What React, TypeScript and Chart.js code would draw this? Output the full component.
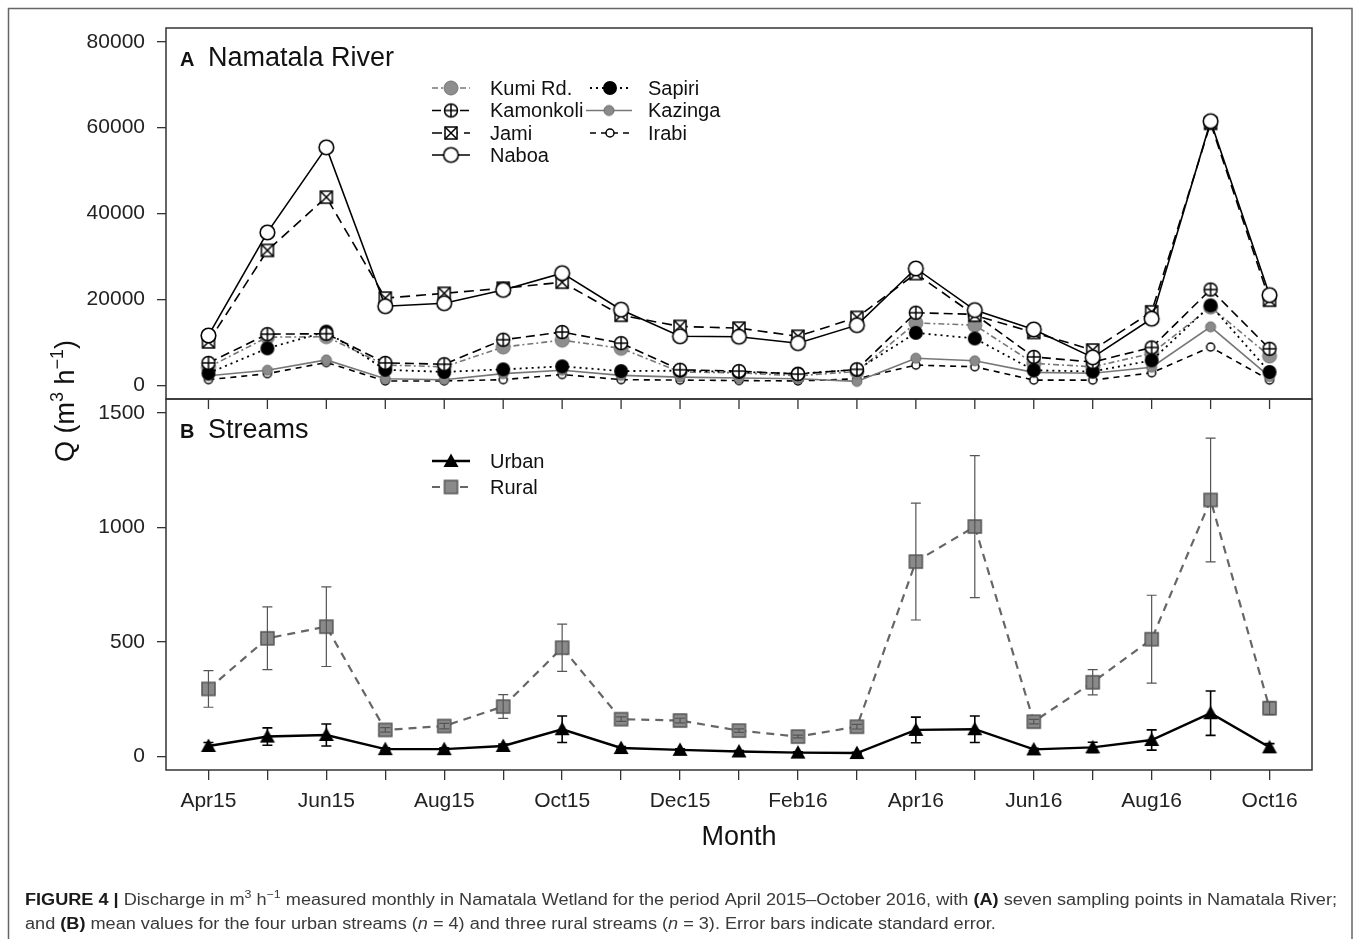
import React, { useEffect, useRef } from 'react';
import { Chart, registerables } from 'chart.js';

Chart.register(...registerables);

// ---------- data ----------
const MONTHS = ['Apr15', 'May15', 'Jun15', 'Jul15', 'Aug15', 'Sep15', 'Oct15', 'Nov15', 'Dec15', 'Jan16', 'Feb16', 'Mar16', 'Apr16', 'May16', 'Jun16', 'Jul16', 'Aug16', 'Sep16', 'Oct16'];
const TOP_TICKS = [0, 20000, 40000, 60000, 80000];
const BOTTOM_TICKS = [0, 500, 1000, 1500];

const naboa = [11600, 35600, 55400, 18400, 19100, 22200, 26100, 17600, 11400, 11300, 9800, 14000, 27200, 17500, 13000, 6500, 15500, 61500, 21000];
const jami = [10100, 31400, 43800, 20300, 21400, 22600, 24000, 16300, 13700, 13300, 11400, 15800, 26000, 16300, 12300, 8200, 17100, 61000, 19800];
const kamonkoli = [5200, 11900, 12000, 5200, 4900, 10600, 12400, 9800, 3600, 3300, 2600, 3700, 16900, 16500, 6600, 5400, 8800, 22300, 8500];
const kumiRd = [4200, 11200, 11300, 4700, 4300, 8900, 10500, 8600, 3100, 2900, 2200, 3200, 14500, 14000, 5100, 4300, 7400, 18200, 6800];
const sapiri = [2800, 8600, 12500, 3600, 3100, 3700, 4400, 3300, 3400, 3100, 2700, 3600, 12200, 10900, 3500, 3200, 5800, 18600, 3100];
const kazinga = [2200, 3500, 5900, 1500, 1300, 2700, 3500, 2300, 1900, 1700, 1500, 900, 6300, 5700, 3000, 2800, 4200, 13600, 2000];
const irabi = [1300, 2700, 5300, 1000, 1000, 1300, 2500, 1300, 1200, 1100, 1000, 1500, 4700, 4300, 1200, 1200, 2900, 8900, 1200];

const urban = [45, 86, 93, 31, 31, 45, 118, 36, 28, 21, 16, 14, 115, 118, 30, 39, 71, 188, 39];
const urbanSE = [15, 38, 48, 6, 6, 8, 58, 6, 5, 4, 3, 3, 56, 58, 5, 22, 44, 97, 16];
const rural = [294, 515, 566, 115, 132, 217, 474, 162, 156, 112, 86, 129, 850, 1003, 151, 323, 511, 1119, 210];
const ruralSE = [80, 137, 174, 10, 12, 52, 103, 10, 10, 8, 6, 10, 255, 310, 10, 55, 192, 270, 28];

const FONT = "'Liberation Sans', Arial, Helvetica, sans-serif";

type Seg = { t: string; b?: boolean; i?: boolean; sup?: boolean };

function makeSymbol(size: number, draw: (g: CanvasRenderingContext2D, c: number) => void) {
  const cv = document.createElement('canvas');
  cv.width = size;
  cv.height = size;
  const g = cv.getContext('2d')!;
  draw(g, size / 2);
  return cv;
}

function segFont(s: Seg, size: number) {
  const sz = s.sup ? Math.round(size * 0.68) : size;
  return `${s.i ? 'italic ' : ''}${s.b ? 'bold ' : ''}${sz}px ${FONT}`;
}

function segsWidth(ctx: CanvasRenderingContext2D, segs: Seg[], size: number) {
  let w = 0;
  for (const s of segs) {
    ctx.font = segFont(s, size);
    w += ctx.measureText(s.t).width;
  }
  return w;
}

function drawSegs(ctx: CanvasRenderingContext2D, segs: Seg[], x: number, y: number, size: number, color: string, boldColor?: string) {
  let cx = x;
  ctx.textBaseline = 'alphabetic';
  ctx.textAlign = 'left';
  for (const s of segs) {
    ctx.font = segFont(s, size);
    ctx.fillStyle = s.b && boldColor ? boldColor : color;
    ctx.fillText(s.t, cx, s.sup ? y - size * 0.42 : y);
    cx += ctx.measureText(s.t).width;
  }
}

export default function App() {
  const ref = useRef<HTMLCanvasElement | null>(null);

  useEffect(() => {
    const canvas = ref.current;
    if (!canvas) return;

    const symNaboa = makeSymbol(19, (g, c) => {
      g.beginPath(); g.arc(c, c, 7.3, 0, Math.PI * 2);
      g.fillStyle = '#fff'; g.fill(); g.lineWidth = 1.6; g.strokeStyle = '#000'; g.stroke();
    });
    const symJami = makeSymbol(18, (g, c) => {
      g.fillStyle = '#fff'; g.fillRect(c - 6, c - 6, 12, 12);
      g.lineWidth = 1.5; g.strokeStyle = '#000'; g.strokeRect(c - 6, c - 6, 12, 12);
      g.beginPath(); g.moveTo(c - 6, c - 6); g.lineTo(c + 6, c + 6); g.moveTo(c + 6, c - 6); g.lineTo(c - 6, c + 6); g.stroke();
    });
    const symKamon = makeSymbol(18, (g, c) => {
      g.beginPath(); g.arc(c, c, 6.5, 0, Math.PI * 2);
      g.fillStyle = '#fff'; g.fill(); g.lineWidth = 1.5; g.strokeStyle = '#000'; g.stroke();
      g.beginPath(); g.moveTo(c - 6.5, c); g.lineTo(c + 6.5, c); g.moveTo(c, c - 6.5); g.lineTo(c, c + 6.5); g.stroke();
    });
    const symKumi = makeSymbol(18, (g, c) => {
      g.beginPath(); g.arc(c, c, 7, 0, Math.PI * 2);
      g.fillStyle = '#8e8e8e'; g.fill(); g.lineWidth = 1; g.strokeStyle = '#777'; g.stroke();
    });
    const symSapiri = makeSymbol(18, (g, c) => {
      g.beginPath(); g.arc(c, c, 7, 0, Math.PI * 2);
      g.fillStyle = '#000'; g.fill();
    });
    const symKazinga = makeSymbol(14, (g, c) => {
      g.beginPath(); g.arc(c, c, 5, 0, Math.PI * 2);
      g.fillStyle = '#8a8a8a'; g.fill(); g.lineWidth = 1; g.strokeStyle = '#6a6a6a'; g.stroke();
    });
    const symIrabi = makeSymbol(12, (g, c) => {
      g.beginPath(); g.arc(c, c, 4, 0, Math.PI * 2);
      g.fillStyle = '#fff'; g.fill(); g.lineWidth = 1.5; g.strokeStyle = '#000'; g.stroke();
    });
    const symUrban = makeSymbol(18, (g, c) => {
      g.beginPath(); g.moveTo(c, c - 7.5); g.lineTo(c + 7.5, c + 6); g.lineTo(c - 7.5, c + 6); g.closePath();
      g.fillStyle = '#000'; g.fill();
    });
    const symRural = makeSymbol(17, (g, c) => {
      g.fillStyle = '#8a8a8a'; g.fillRect(c - 6.5, c - 6.5, 13, 13);
      g.lineWidth = 1.5; g.strokeStyle = '#555'; g.strokeRect(c - 6.5, c - 6.5, 13, 13);
    });

    const pts = (arr: number[]) => arr.map((v, i) => ({ x: i, y: v }));

    const series = [
      { label: 'Naboa', data: naboa, color: '#000', width: 1.6, dash: [] as number[], sym: symNaboa, axis: 'yTop' },
      { label: 'Jami', data: jami, color: '#000', width: 1.6, dash: [10, 6], sym: symJami, axis: 'yTop' },
      { label: 'Kamonkoli', data: kamonkoli, color: '#000', width: 1.6, dash: [9, 5], sym: symKamon, axis: 'yTop' },
      { label: 'Sapiri', data: sapiri, color: '#000', width: 1.8, dash: [2, 4], sym: symSapiri, axis: 'yTop' },
      { label: 'Kumi Rd.', data: kumiRd, color: '#777', width: 1.6, dash: [6, 3, 2, 3], sym: symKumi, axis: 'yTop' },
      { label: 'Kazinga', data: kazinga, color: '#777', width: 1.6, dash: [], sym: symKazinga, axis: 'yTop' },
      { label: 'Irabi', data: irabi, color: '#000', width: 1.6, dash: [6, 5], sym: symIrabi, axis: 'yTop' },
      { label: 'Urban', data: urban, color: '#000', width: 2.4, dash: [], sym: symUrban, axis: 'yBot' },
      { label: 'Rural', data: rural, color: '#666', width: 2.2, dash: [8, 6], sym: symRural, axis: 'yBot' },
    ];
    const byLabel: Record<string, (typeof series)[number]> = {};
    series.forEach((s) => { byLabel[s.label] = s; });

    const drawErr = (ctx: CanvasRenderingContext2D, xs: any, ys: any, vals: number[], se: number[], color: string, lw: number) => {
      ctx.save();
      ctx.strokeStyle = color;
      ctx.lineWidth = lw;
      vals.forEach((v, i) => {
        const xp = xs.getPixelForValue(i);
        const hi = ys.getPixelForValue(v + se[i]);
        const lo = ys.getPixelForValue(v - se[i]);
        ctx.beginPath();
        ctx.moveTo(xp, hi); ctx.lineTo(xp, lo);
        ctx.moveTo(xp - 5, hi); ctx.lineTo(xp + 5, hi);
        ctx.moveTo(xp - 5, lo); ctx.lineTo(xp + 5, lo);
        ctx.stroke();
      });
      ctx.restore();
    };

    const legendItem = (ctx: CanvasRenderingContext2D, label: string, x1: number, x2: number, mx: number, tx: number, y: number) => {
      const s = byLabel[label];
      ctx.save();
      ctx.strokeStyle = s.color;
      ctx.lineWidth = s.width;
      ctx.setLineDash(s.dash);
      ctx.beginPath(); ctx.moveTo(x1, y); ctx.lineTo(x2, y); ctx.stroke();
      ctx.setLineDash([]);
      ctx.drawImage(s.sym, mx - s.sym.width / 2, y - s.sym.height / 2);
      ctx.font = `20px ${FONT}`;
      ctx.fillStyle = '#111';
      ctx.textBaseline = 'middle';
      ctx.textAlign = 'left';
      ctx.fillText(label, tx, y + 1);
      ctx.restore();
    };

    const overlay = {
      id: 'overlay',
      afterDatasetsDraw(chart: any) {
        const ctx = chart.ctx as CanvasRenderingContext2D;
        const xs = chart.scales.x;
        const yb = chart.scales.yBot;
        drawErr(ctx, xs, yb, rural, ruralSE, '#555', 1.2);
        drawErr(ctx, xs, yb, urban, urbanSE, '#000', 1.6);
      },
      afterDraw(chart: any) {
        const ctx = chart.ctx as CanvasRenderingContext2D;
        const area = chart.chartArea;
        const yt = chart.scales.yTop;
        const yb = chart.scales.yBot;
        const xs = chart.scales.x;
        ctx.save();
        // panel boxes
        ctx.strokeStyle = '#333';
        ctx.lineWidth = 1.5;
        ctx.strokeRect(area.left, yt.top, area.right - area.left, yt.bottom - yt.top);
        ctx.strokeRect(area.left, yb.top, area.right - area.left, yb.bottom - yb.top);
        // ticks of upper panel's x axis (unlabelled)
        ctx.lineWidth = 1.3;
        MONTHS.forEach((_, i) => {
          const xp = xs.getPixelForValue(i);
          ctx.beginPath(); ctx.moveTo(xp, yt.bottom); ctx.lineTo(xp, yt.bottom + 10); ctx.stroke();
        });
        // outer frame
        ctx.strokeStyle = '#666';
        ctx.lineWidth = 1.5;
        ctx.beginPath();
        ctx.moveTo(8.5, 939); ctx.lineTo(8.5, 8.5); ctx.lineTo(1352, 8.5); ctx.lineTo(1352, 939);
        ctx.stroke();

        // panel titles
        ctx.fillStyle = '#111';
        ctx.textBaseline = 'alphabetic';
        ctx.textAlign = 'left';
        ctx.font = `bold 20px ${FONT}`;
        ctx.fillText('A', 180, 66);
        ctx.fillText('B', 180, 438);
        ctx.font = `27px ${FONT}`;
        ctx.fillText('Namatala River', 208, 66);
        ctx.fillText('Streams', 208, 438);

        // legends
        legendItem(ctx, 'Kumi Rd.', 432, 470, 451, 490, 88);
        legendItem(ctx, 'Kamonkoli', 432, 470, 451, 490, 110.5);
        legendItem(ctx, 'Jami', 432, 470, 451, 490, 133);
        legendItem(ctx, 'Naboa', 432, 470, 451, 490, 155);
        legendItem(ctx, 'Sapiri', 590, 630, 610, 648, 88);
        legendItem(ctx, 'Kazinga', 586, 632, 609, 648, 110.5);
        legendItem(ctx, 'Irabi', 590, 630, 610, 648, 133);
        legendItem(ctx, 'Urban', 432, 470, 451, 490, 461);
        legendItem(ctx, 'Rural', 432, 470, 451, 490, 487);

        // axis titles
        ctx.fillStyle = '#111';
        ctx.font = `27px ${FONT}`;
        ctx.textAlign = 'center';
        ctx.textBaseline = 'middle';
        ctx.fillText('Month', 739, 838);

        const ySegs: Seg[] = [{ t: 'Q (m' }, { t: '3', sup: true }, { t: ' h' }, { t: '\u22121', sup: true }, { t: ')' }];
        const yw = segsWidth(ctx, ySegs, 27);
        ctx.save();
        ctx.translate(74, 401);
        ctx.rotate(-Math.PI / 2);
        drawSegs(ctx, ySegs, -yw / 2, 0, 27, '#111');
        ctx.restore();

        // caption
        const cap1: Seg[] = [
          { t: 'FIGURE 4 | ', b: true },
          { t: 'Discharge in m' }, { t: '3', sup: true }, { t: ' h' }, { t: '\u22121', sup: true },
          { t: ' measured monthly in Namatala Wetland for the period April 2015\u2013October 2016, with ' },
          { t: '(A)', b: true },
          { t: ' seven sampling points in Namatala River;' },
        ];
        const cap2: Seg[] = [
          { t: 'and ' }, { t: '(B)', b: true },
          { t: ' mean values for the four urban streams (' }, { t: 'n', i: true },
          { t: ' = 4) and three rural streams (' }, { t: 'n', i: true },
          { t: ' = 3). Error bars indicate standard error.' },
        ];
        const capSize = 16;
        const w1 = segsWidth(ctx, cap1, capSize);
        const sx = (1337 - 25) / w1;
        ctx.save();
        ctx.translate(25, 0);
        ctx.scale(sx, 1);
        drawSegs(ctx, cap1, 0, 905, capSize, '#3a3a3a', '#1a1a1a');
        drawSegs(ctx, cap2, 0, 929, capSize, '#3a3a3a', '#1a1a1a');
        ctx.restore();

        ctx.restore();
      },
    };

    const tickFont = { family: FONT, size: 21 };

    const chart = new Chart(canvas, {
      type: 'line',
      data: {
        datasets: series.map((s) => ({
          label: s.label,
          data: pts(s.data),
          yAxisID: s.axis,
          xAxisID: 'x',
          borderColor: s.color,
          backgroundColor: s.color,
          borderWidth: s.width,
          borderDash: s.dash,
          pointStyle: s.sym as any,
          pointRadius: 7,
          pointHoverRadius: 7,
          tension: 0,
          fill: false,
        })),
      },
      options: {
        animation: false,
        responsive: false,
        events: [],
        layout: { padding: { left: 0, right: 45, top: 28, bottom: 0 } },
        plugins: {
          legend: { display: false },
          tooltip: { enabled: false },
          title: { display: false },
        },
        scales: {
          x: {
            type: 'linear',
            position: 'bottom',
            min: -0.72,
            max: 18.72,
            afterBuildTicks: (s: any) => { s.ticks = MONTHS.map((_, i) => ({ value: i })); },
            afterFit: (s: any) => { s.height = 169; },
            ticks: {
              autoSkip: false,
              maxRotation: 0,
              minRotation: 0,
              padding: 9,
              font: tickFont,
              color: '#222',
              callback: (v: any) => (Number(v) % 2 === 0 ? MONTHS[Number(v)] : ''),
            },
            grid: { display: true, drawOnChartArea: false, drawTicks: true, tickLength: 10, color: '#333', lineWidth: 1.3 },
            border: { display: false },
          },
          yBot: {
            type: 'linear',
            position: 'left',
            stack: 'panels',
            stackWeight: 1,
            min: -60,
            max: 1560,
            afterBuildTicks: (s: any) => { s.ticks = BOTTOM_TICKS.map((v) => ({ value: v })); },
            afterFit: (s: any) => { s.width = 166; },
            ticks: { autoSkip: false, padding: 12, font: tickFont, color: '#222', callback: (v: any) => String(v) },
            grid: { display: true, drawOnChartArea: false, drawTicks: true, tickLength: 9, color: '#333', lineWidth: 1.3 },
            border: { display: false },
          },
          yTop: {
            type: 'linear',
            position: 'left',
            stack: 'panels',
            stackWeight: 1,
            min: -3200,
            max: 83200,
            afterBuildTicks: (s: any) => { s.ticks = TOP_TICKS.map((v) => ({ value: v })); },
            afterFit: (s: any) => { s.width = 166; },
            ticks: { autoSkip: false, padding: 12, font: tickFont, color: '#222', callback: (v: any) => String(v) },
            grid: { display: true, drawOnChartArea: false, drawTicks: true, tickLength: 9, color: '#333', lineWidth: 1.3 },
            border: { display: false },
          },
        },
      } as any,
      plugins: [overlay],
    });

    return () => { chart.destroy(); };
  }, []);

  return (
    <div style={{ position: 'absolute', left: 0, top: 0, width: 1357, height: 939, background: '#fff' }}>
      <canvas ref={ref} width={1357} height={939} style={{ display: 'block', width: 1357, height: 939 }} />
    </div>
  );
}
